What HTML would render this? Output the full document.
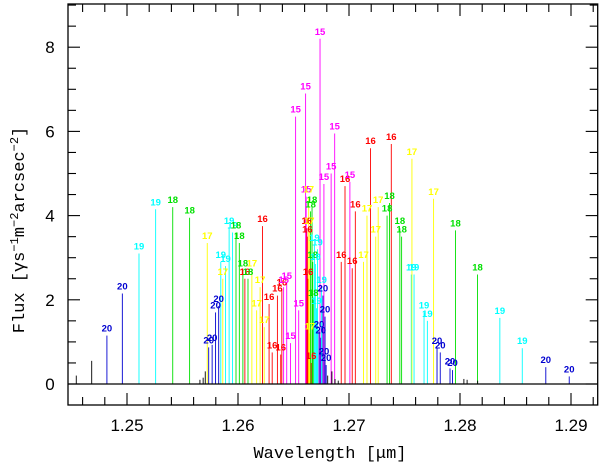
<!DOCTYPE html>
<html><head><meta charset="utf-8"><style>
html,body{margin:0;padding:0;background:#fff}
svg{display:block}
.lb{font:bold 9.5px "Liberation Sans",sans-serif;text-anchor:middle}
.tk{font:17px "Liberation Sans",sans-serif}
.ti{font:17px "Liberation Mono",monospace}
</style></head><body>
<svg id="chart" width="600" height="464" viewBox="0 0 600 464">
<g id="marks"></g>
<g id="labels"></g>
<g id="axes"></g>
<rect x="68" y="4" width="529.7" height="401" fill="none" stroke="#000" stroke-width="1.3"/>
<line x1="68" y1="384" x2="597.7" y2="384" stroke="#000" stroke-width="1.2"/>
<text class="ti" x="330" y="458" text-anchor="middle">Wavelength [μm]</text>
<text class="ti" transform="translate(24,230) rotate(-90)" text-anchor="middle">Flux [γs<tspan dy="-6" font-size="12">−1</tspan><tspan dy="6">m</tspan><tspan dy="-6" font-size="12">−2</tspan><tspan dy="6">arcsec</tspan><tspan dy="-6" font-size="12">−2</tspan><tspan dy="6">]</tspan></text>
</svg>
<script>
// line data: wavelength (µm), flux, rotational label (J)
const wavelengths = [1.24543,1.24682,1.24819,1.24958,1.25108,1.25258,1.25412,1.25564,1.25723,1.25736,1.25767,1.25798,1.25826,1.25845,1.25863,1.25888,1.2592,1.25951,1.25982,1.26012,1.26044,1.26062,1.2609,1.26125,1.26168,1.26199,1.26221,1.26236,1.2628,1.26308,1.26355,1.26385,1.26395,1.26411,1.26439,1.26473,1.26519,1.26547,1.26609,
1.26614,1.2662,1.26625,1.26631,1.26637,1.26642,1.26648,1.26654,1.26659,1.26667,1.26673,1.26678,1.26688,1.26697,1.26707,1.26716,1.2673,1.26746,1.26753,1.26765,1.26775,1.26784,1.26794,
1.26739,1.26774,1.26839,1.26871,1.2693,1.26964,1.27008,1.27029,1.27057,1.27131,1.27162,1.27194,1.27241,1.27263,1.27343,1.27365,1.27381,1.27458,1.27474,1.27561,1.27586,1.27567,1.27676,1.27706,1.27762,1.27793,1.27822,1.2791,1.27933,1.27959,1.28158,1.28359,1.28561,1.28773,1.28984,
1.25657,1.25686,1.25705,1.26808,1.26846,1.26874,1.26903,1.28035,1.28064,1.28159];
const fluxes = [0.2,0.55,1.15,2.15,3.1,4.15,4.2,3.95,3.35,0.87,0.93,1.7,1.85,2.9,2.5,2.8,3.7,3.6,3.6,3.35,2.7,2.5,2.5,2.7,1.75,2.3,3.75,1.35,1.9,0.75,2.1,0.7,2.25,2.3,2.4,0.97,6.35,1.75,6.9,
4.45,3.7,3.5,2.5,4.45,3.7,1.2,4.1,0.5,4.2,2.9,2.0,3.3,2.85,1.8,3.2,1.25,1.1,2.3,2.1,0.6,1.6,0.45,
8.2,4.75,5.0,5.95,2.9,4.7,4.8,2.75,4.1,2.9,4.0,5.6,3.5,4.2,4.0,4.3,5.7,3.7,3.5,2.6,2.6,5.35,1.7,1.5,4.4,0.85,0.75,0.37,0.33,3.65,2.6,1.57,0.85,0.4,0.18,
0.1,0.15,0.3,0.2,0.3,0.12,0.08,0.12,0.1,0.08];
const jLabels = [0,0,20,20,19,19,18,18,17,20,20,20,20,19,17,19,19,19,18,18,18,16,18,17,17,17,16,17,16,16,16,16,16,15,15,15,15,15,15,
15,16,16,16,17,17,17,18,16,18,18,18,19,19,19,19,20,20,19,20,20,20,20,
15,15,15,15,16,16,15,16,16,17,17,16,17,17,18,18,16,18,18,19,19,17,19,19,17,20,20,20,20,18,18,19,19,20,20,
0,0,0,0,0,0,0,0,0,0];
const xTicks = [1.25,1.26,1.27,1.28,1.29];
const yTicks = [0,2,4,6,8];

const X0=68,X1=597.7,Y0=4,Y1=405;
const xScale = w => 127 + (w-1.25)*11100;
const yScale = v => 384 - v*42.1;
const colors = {15:'#ff00ff',16:'#ff0000',17:'#ffff00',18:'#00e000',19:'#00ffff',20:'#0000d0',0:'#000000'};
const NS='http://www.w3.org/2000/svg';
const marks=document.getElementById('marks'), labels=document.getElementById('labels'), axes=document.getElementById('axes');

for(let i=0;i<wavelengths.length;i++){
  const x=xScale(wavelengths[i]), y=yScale(fluxes[i]), c=colors[jLabels[i]];
  const ln=document.createElementNS(NS,'line');
  ln.setAttribute('x1',x);ln.setAttribute('x2',x);ln.setAttribute('y1',384);ln.setAttribute('y2',y);
  ln.setAttribute('stroke',c);ln.setAttribute('stroke-width',0.9);
  
  
  marks.appendChild(ln);
  if(jLabels[i]){
    const t=document.createElementNS(NS,'text');
    t.setAttribute('x',x);t.setAttribute('y',y-4);t.setAttribute('class','lb');t.setAttribute('fill',c);
    t.textContent=jLabels[i];
    
    
    labels.appendChild(t);
  }
}
function tick(x1,y1,x2,y2){
  const l=document.createElementNS(NS,'line');
  l.setAttribute('x1',x1);l.setAttribute('y1',y1);l.setAttribute('x2',x2);l.setAttribute('y2',y2);
  l.setAttribute('stroke','#000');l.setAttribute('stroke-width',1.1);
  
  
  axes.appendChild(l);
}
for(let k=-4;k<=24;k++){
  const w=1.25+k*0.002, x=xScale(w);
  if(x<X0+1||x>X1-1) continue;
  const len=(k%5===0)?12:8;
  tick(x,Y1,x,Y1-len); tick(x,Y0,x,Y0+len);
}
for(let k=0;k<=18;k++){
  const v=k*0.5, y=yScale(v);
  if(y<Y0+1) continue;
  const len=(k%4===0)?12:8;
  tick(X0,y,X0+len,y); tick(X1,y,X1-len,y);
}
xTicks.forEach(w=>{
  const t=document.createElementNS(NS,'text');
  t.setAttribute('x',xScale(w));t.setAttribute('y',431);t.setAttribute('text-anchor','middle');t.setAttribute('class','tk');
  t.textContent=w.toFixed(2);
  
  
  axes.appendChild(t);
});
yTicks.forEach(v=>{
  const t=document.createElementNS(NS,'text');
  t.setAttribute('x',50);t.setAttribute('y',yScale(v)+6);t.setAttribute('text-anchor','middle');t.setAttribute('class','tk');
  t.textContent=v;
  
  
  axes.appendChild(t);
});
</script>
</body></html>
